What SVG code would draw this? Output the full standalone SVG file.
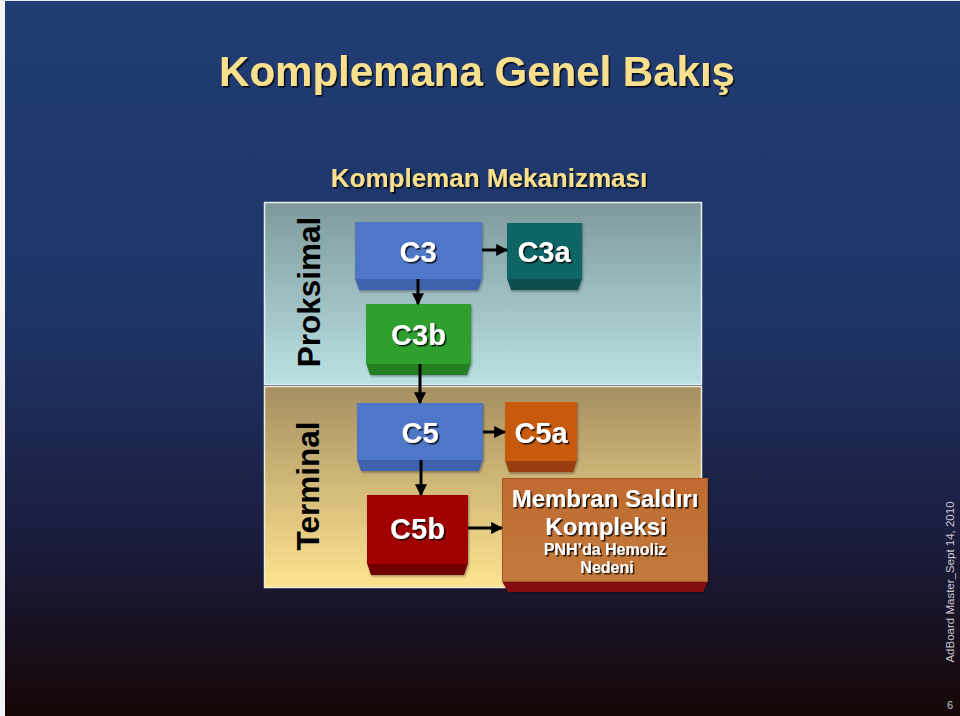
<svg xmlns="http://www.w3.org/2000/svg" width="960" height="716" viewBox="0 0 960 716">
<defs>
<linearGradient id="bg" x1="0" y1="0" x2="0" y2="1">
<stop offset="0" stop-color="#203d73"/>
<stop offset="0.45" stop-color="#1e3467"/>
<stop offset="0.75" stop-color="#1b1d3e"/>
<stop offset="1" stop-color="#160606"/>
</linearGradient>
<linearGradient id="gp" x1="0" y1="0" x2="0" y2="1">
<stop offset="0" stop-color="#7e999b"/>
<stop offset="1" stop-color="#bbe1e5"/>
</linearGradient>
<linearGradient id="gt" x1="0" y1="0" x2="0" y2="1">
<stop offset="0" stop-color="#a68f62"/>
<stop offset="1" stop-color="#fde490"/>
</linearGradient>
<linearGradient id="gm" x1="0" y1="0" x2="0" y2="1">
<stop offset="0" stop-color="#c06a30"/>
<stop offset="1" stop-color="#c27a3c"/>
</linearGradient>
<filter id="sh" x="-20%" y="-20%" width="140%" height="140%">
<feDropShadow dx="1.5" dy="1.5" stdDeviation="0.6" flood-color="#000" flood-opacity="0.85"/>
</filter>
<filter id="bs" x="-10%" y="-10%" width="120%" height="130%">
<feDropShadow dx="1" dy="1.5" stdDeviation="1" flood-color="#000" flood-opacity="0.35"/>
</filter>
<marker id="ah" viewBox="0 0 10 10" refX="9" refY="5" markerWidth="4" markerHeight="4" orient="auto" markerUnits="strokeWidth">
<path d="M0,0 L10,5 L0,10 Z" fill="#000"/>
</marker>
</defs>
<style>
.title{font-family:"Liberation Sans",Arial,sans-serif;font-weight:bold;fill:#f9e08e;text-anchor:middle}
.lbl{font-family:"Liberation Sans",Arial,sans-serif;font-weight:bold;fill:#fff;text-anchor:middle;filter:url(#sh)}
.side{font-family:"Liberation Sans",Arial,sans-serif;font-weight:bold;fill:#000;text-anchor:middle;font-size:31.5px}
.foot{font-family:"Liberation Sans",Arial,sans-serif;fill:#c9c9d2}
.con{stroke:#000;stroke-width:3;fill:none;marker-end:url(#ah)}
</style>
<rect width="960" height="716" fill="url(#bg)"/>
<rect x="0" y="0" width="5" height="716" fill="#f4f4f6"/>
<rect x="0" y="0" width="960" height="1" fill="#e8e8ee"/>

<text class="title" x="477" y="86" font-size="42" filter="url(#sh)">Komplemana Genel Bakış</text>
<text class="title" x="489" y="187" font-size="26" filter="url(#sh)">Kompleman Mekanizması</text>

<g id="panel-proksimal">
<rect x="264.5" y="202.5" width="437" height="182" fill="url(#gp)" stroke="#e6eef0" stroke-width="1.5"/>
<text class="side" transform="translate(320,292) rotate(-90)">Proksimal</text>
</g>
<g id="panel-terminal">
<rect x="264.5" y="386.5" width="437" height="201" fill="url(#gt)" stroke="#f0ecd8" stroke-width="1.5"/>
<text class="side" transform="translate(319,486) rotate(-90)">Terminal</text>
</g>

<g id="c3" filter="url(#bs)">
<path d="M355,278 L482,278 L478,290 L359,290 Z" fill="#3f62ad"/>
<rect x="355" y="222" width="127" height="57" fill="#5077c8"/>
<text class="lbl" x="418" y="262" font-size="29">C3</text>
</g>
<g id="c3a" filter="url(#bs)">
<path d="M507,278 L582,278 L578,290 L511,290 Z" fill="#0a4f4f"/>
<rect x="507" y="223" width="75" height="56" fill="#0f6565"/>
<text class="lbl" x="544" y="262" font-size="29">C3a</text>
</g>
<g id="c3b" filter="url(#bs)">
<path d="M366,363 L471,363 L467,375 L370,375 Z" fill="#217f22"/>
<rect x="366" y="304" width="105" height="60" fill="#2ea02f"/>
<text class="lbl" x="418.5" y="345" font-size="29">C3b</text>
</g>
<g id="c5" filter="url(#bs)">
<path d="M357,459 L483,459 L479,471 L361,471 Z" fill="#3f62ad"/>
<rect x="357" y="403" width="126" height="57" fill="#5077c8"/>
<text class="lbl" x="420" y="443" font-size="29">C5</text>
</g>
<g id="c5a" filter="url(#bs)">
<path d="M505,460 L577,460 L573,472 L509,472 Z" fill="#983c08"/>
<rect x="505" y="402" width="72" height="59" fill="#c85a10"/>
<text class="lbl" x="541" y="443" font-size="29">C5a</text>
</g>
<g id="c5b" filter="url(#bs)">
<path d="M367,563 L468,563 L464,575 L371,575 Z" fill="#700000"/>
<rect x="367" y="495" width="101" height="69" fill="#a00404"/>
<text class="lbl" x="417.5" y="539" font-size="29">C5b</text>
</g>
<g id="mac" filter="url(#bs)">
<path d="M502,581 L708,581 L703,592 L508,592 Z" fill="#861010"/>
<rect x="502.5" y="478.5" width="205" height="103" fill="url(#gm)" stroke="#a85a28" stroke-width="1"/>
<text class="lbl" x="605" y="507" font-size="24">Membran Saldırı</text>
<text class="lbl" x="606" y="535" font-size="24">Kompleksi</text>
<text class="lbl" x="605" y="555" font-size="16">PNH’da Hemoliz</text>
<text class="lbl" x="607" y="573" font-size="16">Nedeni</text>
</g>

<g id="connectors">
<line class="con" x1="482" y1="250" x2="507" y2="250"/>
<line class="con" x1="418" y1="279" x2="418" y2="304"/>
<line class="con" x1="420" y1="364" x2="420" y2="403"/>
<line class="con" x1="483" y1="432" x2="505" y2="432"/>
<line class="con" x1="421" y1="460" x2="421" y2="495"/>
<line class="con" x1="468" y1="528" x2="502" y2="528"/>
</g>

<text class="foot" font-size="11.5" text-anchor="middle" transform="translate(954,582) rotate(-90)">AdBoard Master_Sept 14, 2010</text>
<text class="foot" x="950" y="709" font-size="11" text-anchor="middle">6</text>
</svg>
